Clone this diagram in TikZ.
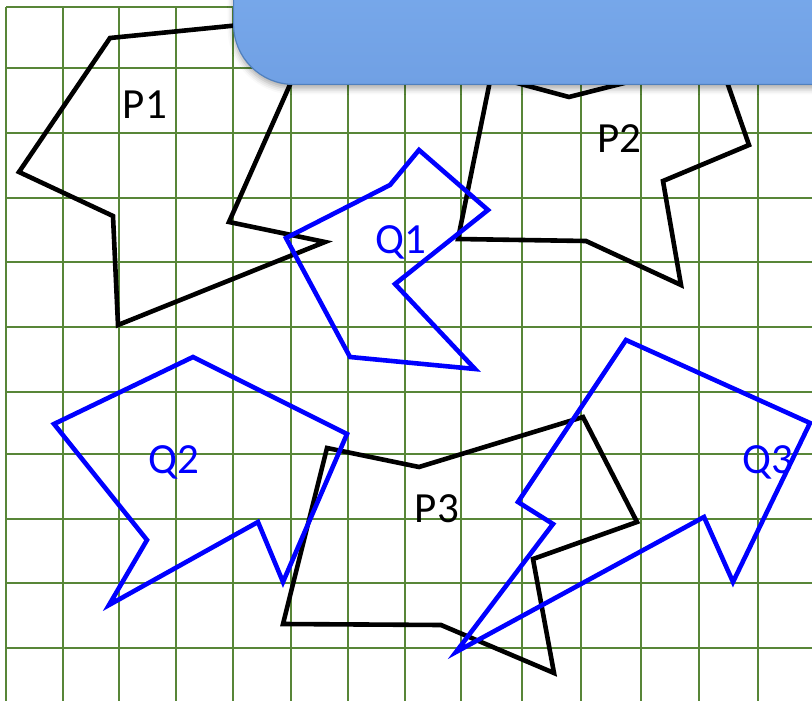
\documentclass[tikz,border=0pt]{standalone}
\usepackage{fontspec}
\setmainfont{Carlito}
\usetikzlibrary{shadows.blur}
\definecolor{gridgreen}{RGB}{88,134,56}
\definecolor{bartop}{RGB}{130,180,244}
\definecolor{barbottom}{RGB}{112,160,228}
\definecolor{baredge}{RGB}{80,128,190}

\begin{document}
\begin{tikzpicture}[x=1pt, y=-1pt,
  gridline/.style={gridgreen, line width=2.8pt},
  poly/.style={line width=4.6pt, line join=miter},
  ppoly/.style={poly, black},
  qpoly/.style={poly, blue},
  lbl/.style={font=\fontsize{43}{51}\selectfont, inner sep=0pt, anchor=base},
  topbar/.style={draw=baredge, line width=1.2pt, top color=bartop,
    bottom color=barbottom, rounded corners=60pt, anchor=south west,
    minimum width=700pt, minimum height=240pt,
    blur shadow={shadow xshift=0pt, shadow yshift=-4pt,
      shadow blur radius=6pt, shadow opacity=35}}]
  \useasboundingbox (0,0) rectangle (812,701);
  \clip (0,0) rectangle (812,701);
  % grid
  \foreach \gx in {6,63,119,176,233,291,348,405,461,522,581,641,699,758}
    \draw[gridline] (\gx,7) -- (\gx,701);
  \foreach \gy in {7,68,133,198,262,327,392,454,519,583,648}
    \draw[gridline] (6,\gy) -- (812,\gy);
  % P polygons
  \draw[ppoly] (110,38) -- (320,17) -- (229,222) -- (325,242) -- (118,325)
    -- (113,216) -- (19,172) -- cycle;
  \draw[ppoly] (458,239) -- (491,76) -- (569,97) -- (719,59) -- (749,145)
    -- (663,181) -- (681,285) -- (586,241) -- cycle;
  \draw[ppoly] (327,448) -- (419,467) -- (583,417) -- (637,522) -- (533,559)
    -- (554,673) -- (441,625) -- (283,624) -- cycle;
  % Q polygons
  \draw[qpoly] (419,150) -- (488,210) -- (395,284) -- (475,369) -- (350,357)
    -- (286,238) -- (390,185) -- cycle;
  \draw[qpoly] (193,357) -- (347,434) -- (283,582) -- (258,522) -- (109,605)
    -- (147,540) -- (54,424) -- cycle;
  \draw[qpoly] (626,340) -- (810,423) -- (733,582) -- (704,517) -- (456,652)
    -- (553,524) -- (518,502) -- cycle;
  % labels
  \node[lbl] (p1) at (145,118) {P1};
  \node[lbl] (p2) at (619,152) {P2};
  \node[lbl] (p3) at (437,522) {P3};
  \node[lbl, blue] (q1) at (401,253) {Q1};
  \node[lbl, blue] (q2) at (174,473) {Q2};
  \node[lbl, blue] (q3) at (768,473) {Q3};
  % title bar
  \node[topbar] (bar) at (233,85) {};
\end{tikzpicture}
\end{document}
